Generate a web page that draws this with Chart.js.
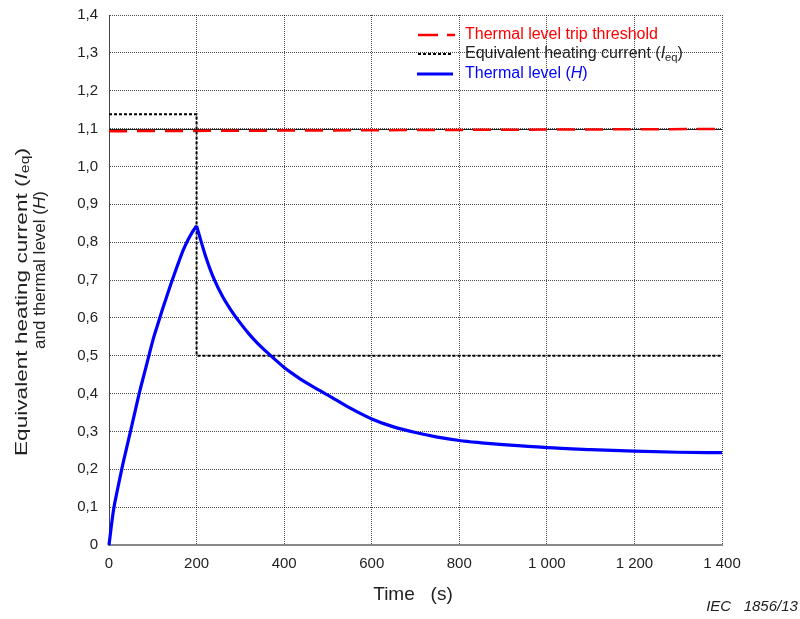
<!DOCTYPE html>
<html>
<head>
<meta charset="utf-8">
<script src="https://cdn.jsdelivr.net/npm/chart.js@4.4.1/dist/chart.umd.min.js"></script>
<style>
  html, body { margin: 0; padding: 0; background: #fff; }
</style>
</head>
<body>
<canvas id="thermalChart" width="800" height="619"></canvas>
<script>
// values
const riseTime = [0, 10, 20, 30, 40, 50, 60, 70, 80, 90, 100, 110, 120, 130, 140, 150, 160, 170, 180, 190, 200];
const riseValue = [
  0, 0.09, 0.15, 0.205, 0.255, 0.305, 0.355, 0.405, 0.45, 0.495, 0.54, 0.578, 0.615, 0.65, 0.685,
  0.718, 0.75, 0.78, 0.805, 0.826, 0.843,
];
const decayTime = [
  200, 220, 240, 260, 280, 300, 320, 340, 360, 380, 400, 420, 440, 460, 480, 500, 550, 600, 650, 700,
  750, 800, 850, 900, 950, 1000, 1100, 1200, 1300, 1400,
];
const decayValue = [
  0.843, 0.765, 0.702, 0.655, 0.618, 0.586, 0.557, 0.532, 0.51, 0.489, 0.469, 0.452, 0.436, 0.422, 0.409,
  0.396, 0.362, 0.333, 0.312, 0.297, 0.285, 0.276, 0.27, 0.265, 0.261, 0.257, 0.252, 0.248, 0.245, 0.244,
];
const ieqTime = [0, 200, 200, 1400];
const ieqValue = [1.138, 1.138, 0.5, 0.5];
const tripTime = [0, 1400];
const tripValue = [1.093, 1.099];

const xTickLabels = ["0", "200", "400", "600", "800", "1 000", "1 200", "1 400"];
const yTickLabels = ["0", "0,1", "0,2", "0,3", "0,4", "0,5", "0,6", "0,7", "0,8", "0,9", "1,0", "1,1", "1,2", "1,3", "1,4"];

const FONT = "'Liberation Sans', Arial, sans-serif";
const BLUE = "#0000ff";

function toPoints(xs, ys) {
  return xs.map((x, i) => ({ x: x, y: ys[i] }));
}

function partFont(p, size) {
  const sz = p.sub ? size * 0.7 : size;
  return (p.italic ? "italic " : "") + sz + "px " + FONT;
}

function richWidth(ctx, parts, size) {
  let total = 0;
  parts.forEach((p) => {
    ctx.font = partFont(p, size);
    total += ctx.measureText(p.t).width;
  });
  return total;
}

// text with italic / subscript pieces, centred on (0,0) of the current transform
function drawRich(ctx, parts, size, color) {
  let x = -richWidth(ctx, parts, size) / 2;
  ctx.fillStyle = color;
  ctx.textBaseline = "middle";
  ctx.textAlign = "left";
  parts.forEach((p) => {
    ctx.font = partFont(p, size);
    ctx.fillText(p.t, x, p.sub ? size * 0.22 : 0);
    x += ctx.measureText(p.t).width;
  });
}

function drawRichLeft(ctx, parts, size, color, x, y) {
  ctx.save();
  ctx.translate(x + richWidth(ctx, parts, size) / 2, y);
  drawRich(ctx, parts, size, color);
  ctx.restore();
}

const yTitle1 = [
  { t: "Equivalent heating current (" },
  { t: "I", italic: true },
  { t: "eq", sub: true },
  { t: ")" },
];
const yTitle2 = [
  { t: "and thermal level (" },
  { t: "H", italic: true },
  { t: ")" },
];

const decorations = {
  id: "decorations",
  beforeDatasetsDraw(chart) {
    const { ctx, chartArea, scales } = chart;
    const y = Math.round(scales.y.getPixelForValue(1.1)) + 0.5;
    ctx.save();
    ctx.strokeStyle = "#222";
    ctx.lineWidth = 1;
    ctx.beginPath();
    ctx.moveTo(chartArea.left, y);
    ctx.lineTo(chartArea.right, y);
    ctx.stroke();
    ctx.restore();
  },
  afterDraw(chart) {
    const { ctx } = chart;

    // y axis title, two lines (first line is drawn wider in the original)
    ctx.save();
    ctx.translate(22, 302);
    ctx.rotate(-Math.PI / 2);
    ctx.scale(308 / richWidth(ctx, yTitle1, 17), 1);
    drawRich(ctx, yTitle1, 17, "#222");
    ctx.restore();
    ctx.save();
    ctx.translate(40, 270);
    ctx.rotate(-Math.PI / 2);
    drawRich(ctx, yTitle2, 17, "#222");
    ctx.restore();

    // x axis title
    ctx.save();
    ctx.translate(413, 595);
    drawRich(ctx, [{ t: "Time   (s)" }], 19, "#222");
    ctx.restore();

    // figure number
    ctx.save();
    ctx.translate(752, 607);
    drawRich(ctx, [{ t: "IEC   1856/13", italic: true }], 15, "#222");
    ctx.restore();

    // legend
    const lx = 418, tx = 465;
    ctx.save();
    ctx.lineCap = "butt";
    ctx.strokeStyle = "#ff0000";
    ctx.lineWidth = 2.5;
    ctx.setLineDash([20, 9]);
    ctx.beginPath(); ctx.moveTo(lx, 35); ctx.lineTo(lx + 37, 35); ctx.stroke();
    ctx.strokeStyle = "#000";
    ctx.lineWidth = 2;
    ctx.setLineDash([3, 2]);
    ctx.beginPath(); ctx.moveTo(lx, 54); ctx.lineTo(lx + 33, 54); ctx.stroke();
    ctx.strokeStyle = BLUE;
    ctx.lineWidth = 3;
    ctx.setLineDash([]);
    ctx.beginPath(); ctx.moveTo(lx - 1, 74); ctx.lineTo(lx + 35, 74); ctx.stroke();
    ctx.restore();
    drawRichLeft(ctx, [{ t: "Thermal level trip threshold" }], 16, "#ff0000", tx, 35);
    drawRichLeft(ctx, yTitle1, 16, "#222", tx, 54);
    drawRichLeft(ctx, [{ t: "Thermal level (" }, { t: "H", italic: true }, { t: ")" }], 16, BLUE, tx, 74);
  },
};

const ctx = document.getElementById("thermalChart").getContext("2d");

new Chart(ctx, {
  type: "line",
  data: {
    datasets: [
      {
        label: "Thermal level (H) rise",
        data: toPoints(riseTime, riseValue),
        borderColor: BLUE,
        borderWidth: 3.2,
        pointRadius: 0,
        cubicInterpolationMode: "monotone",
        clip: 4,
      },
      {
        label: "Thermal level (H) decay",
        data: toPoints(decayTime, decayValue),
        borderColor: BLUE,
        borderWidth: 3.2,
        pointRadius: 0,
        cubicInterpolationMode: "monotone",
        clip: 4,
      },
      {
        label: "Equivalent heating current (Ieq)",
        data: toPoints(ieqTime, ieqValue),
        borderColor: "#000000",
        borderWidth: 2,
        borderDash: [3, 2],
        pointRadius: 0,
        tension: 0,
        clip: 4,
      },
      {
        label: "Thermal level trip threshold",
        data: toPoints(tripTime, tripValue),
        borderColor: "#ff0000",
        borderWidth: 2.5,
        borderDash: [18, 10],
        pointRadius: 0,
        tension: 0,
        clip: 4,
      },
    ],
  },
  options: {
    responsive: false,
    animation: false,
    layout: {
      padding: { left: 0, top: 15, right: 78, bottom: 0 },
    },
    plugins: {
      legend: { display: false },
      tooltip: { enabled: false },
    },
    scales: {
      x: {
        type: "linear",
        min: 0,
        max: 1400,
        afterFit: (scale) => { scale.height = 74; },
        afterBuildTicks: (scale) => {
          scale.ticks = xTickLabels.map((_, i) => ({ value: i * 200 }));
        },
        ticks: {
          padding: 10,
          color: "#222",
          font: { family: FONT, size: 15 },
          maxRotation: 0,
          callback: (v, i) => xTickLabels[i],
        },
        grid: {
          color: "rgba(0,0,0,0.7)",
          lineWidth: 1,
          drawTicks: false,
        },
        border: { display: true, color: "#888", width: 2, dash: [1, 1] },
      },
      y: {
        type: "linear",
        min: 0,
        max: 1.4,
        afterFit: (scale) => {
          scale.width = 109;
          scale.paddingTop = 0;
          scale.paddingBottom = 0;
        },
        afterBuildTicks: (scale) => {
          scale.ticks = yTickLabels.map((_, i) => ({ value: i / 10 }));
        },
        ticks: {
          padding: 11,
          color: "#222",
          font: { family: FONT, size: 15 },
          callback: (v, i) => yTickLabels[i],
        },
        grid: {
          color: "rgba(0,0,0,0.7)",
          lineWidth: 1,
          drawTicks: false,
        },
        border: { display: true, color: "#444", width: 1, dash: [1, 1] },
      },
    },
  },
  plugins: [decorations],
});
</script>
</body>
</html>
